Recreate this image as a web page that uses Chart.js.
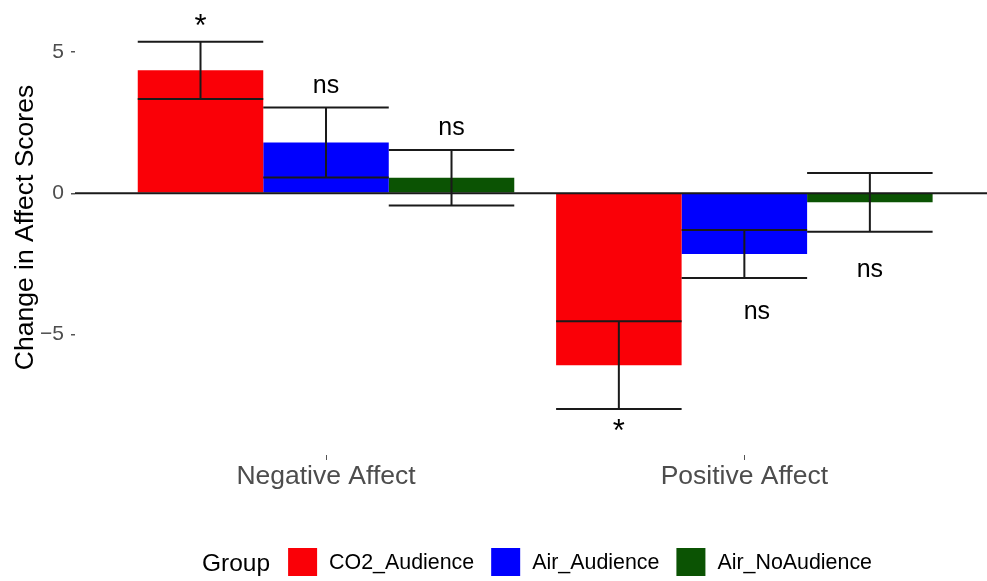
<!DOCTYPE html>
<html>
<head>
<meta charset="utf-8">
<script src="https://cdn.jsdelivr.net/npm/chart.js@4"></script>
<style>
  html, body { margin: 0; padding: 0; background: #fff; }
  #wrap { width: 987px; height: 581px; }
</style>
</head>
<body>
<div id="wrap"><canvas id="myChart" width="987" height="581"></canvas></div>
<script>
// categories on the x axis and their positions
const categories = ["Negative Affect", "Positive Affect"];
const xPos = [1, 2];
const yTicks = [-5, 0, 5];

// groups (legend)
const groups = ["CO2_Audience", "Air_Audience", "Air_NoAudience"];
const groupColors = ["#fa0007", "#0000fe", "#0b5303"];

// mean change per group
const co2Means = [4.35, -6.08];
const airAudMeans = [1.80, -2.15];
const airNoAudMeans = [0.55, -0.32];

// standard errors
const co2Se = [1.01, 1.55];
const airAudSe = [1.24, 0.85];
const airNoAudSe = [0.98, 1.04];

// significance labels, where they sit (score units) and small x nudges (category units)
const co2Sig = ["*", "*"];
const airAudSig = ["ns", "ns"];
const airNoAudSig = ["ns", "ns"];
const co2SigY = [5.86, -8.47];
const airAudSigY = [3.80, -4.20];
const airNoAudSigY = [2.31, -2.72];
const co2SigDx = [0, 0];
const airAudSigDx = [0, 0.03];
const airNoAudSigDx = [0, 0];

const FONT = "'Liberation Sans', Arial, Helvetica, sans-serif";

const allMeans = [co2Means, airAudMeans, airNoAudMeans];
const allSe = [co2Se, airAudSe, airNoAudSe];
const allSig = [co2Sig, airAudSig, airNoAudSig];
const allSigY = [co2SigY, airAudSigY, airNoAudSigY];
const allSigDx = [co2SigDx, airAudSigDx, airNoAudSigDx];

const datasets = groups.map((g, i) => ({
    label: g,
    data: xPos.map((x, j) => ({x: x, y: allMeans[i][j]})),
    backgroundColor: groupColors[i],
    borderWidth: 0,
    categoryPercentage: 0.9,
    barPercentage: 1.0,
}));

// zero line, error bars and labels
const extrasPlugin = {
    id: "extras",
    afterDatasetsDraw(chart) {
        const ctx = chart.ctx;
        const xScale = chart.scales.x;
        const yScale = chart.scales.y;
        const area = chart.chartArea;
        ctx.save();
        // horizontal line at 0
        const y0 = yScale.getPixelForValue(0);
        ctx.strokeStyle = "#1a1a1a";
        ctx.lineWidth = 2;
        ctx.beginPath();
        ctx.moveTo(area.left, y0);
        ctx.lineTo(area.right, y0);
        ctx.stroke();

        const unit = xScale.getPixelForValue(1) - xScale.getPixelForValue(0);

        // error bars
        chart.data.datasets.forEach((ds, i) => {
            const meta = chart.getDatasetMeta(i);
            meta.data.forEach((bar, j) => {
                const m = allMeans[i][j];
                const se = allSe[i][j];
                const yTop = yScale.getPixelForValue(m + se);
                const yBot = yScale.getPixelForValue(m - se);
                const half = bar.width / 2;
                ctx.beginPath();
                ctx.moveTo(bar.x, yTop);
                ctx.lineTo(bar.x, yBot);
                ctx.moveTo(bar.x - half, yTop);
                ctx.lineTo(bar.x + half, yTop);
                ctx.moveTo(bar.x - half, yBot);
                ctx.lineTo(bar.x + half, yBot);
                ctx.stroke();

                // significance text
                const label = allSig[i][j];
                ctx.fillStyle = "#000";
                ctx.textAlign = "center";
                ctx.textBaseline = "middle";
                ctx.font = (label === "*" ? "31px " : "25px ") + FONT;
                ctx.fillText(label, bar.x + allSigDx[i][j] * unit,
                    yScale.getPixelForValue(allSigY[i][j]));
            });
        });
        ctx.restore();
    },
    afterDraw(chart) {
        // legend: "Group" title followed by keys
        const ctx = chart.ctx;
        const area = chart.chartArea;
        ctx.save();
        ctx.textBaseline = "middle";
        ctx.textAlign = "left";
        const boxW = 29, boxH = 28, gapBox = 12, gapItem = 17, gapTitle = 18;
        ctx.font = "24.5px " + FONT;
        const titleW = ctx.measureText("Group").width;
        ctx.font = "21.4px " + FONT;
        const labelW = groups.map(g => ctx.measureText(g).width);
        let total = titleW + gapTitle;
        labelW.forEach((w, i) => {
            total += boxW + gapBox + w + (i < groups.length - 1 ? gapItem : 0);
        });
        let x = (area.left + area.right) / 2 - total / 2 + 6;
        const yMid = 562;
        ctx.fillStyle = "#000";
        ctx.font = "24.5px " + FONT;
        ctx.fillText("Group", x, yMid + 2);
        x += titleW + gapTitle;
        ctx.font = "21.4px " + FONT;
        groups.forEach((g, i) => {
            ctx.fillStyle = groupColors[i];
            ctx.fillRect(x, yMid - boxH / 2, boxW, boxH);
            x += boxW + gapBox;
            ctx.fillStyle = "#000";
            ctx.fillText(g, x, yMid + 1);
            x += labelW[i] + gapItem;
        });
        ctx.restore();
    }
};

const ctx = document.getElementById("myChart").getContext("2d");
const chart = new Chart(ctx, {
    type: "bar",
    data: {datasets: datasets},
    options: {
        responsive: false,
        animation: false,
        layout: {padding: {top: 0, right: 0, bottom: 86, left: 0}},
        plugins: {
            legend: {display: false},
            tooltip: {enabled: false},
        },
        scales: {
            x: {
                type: "linear",
                offset: false,
                min: 0.4,
                max: 2.58,
                grid: {
                    display: true,
                    offset: false,
                    drawOnChartArea: false,
                    drawTicks: true,
                    tickLength: 5,
                    color: "#555",
                    lineWidth: 1,
                },
                border: {display: false},
                ticks: {
                    padding: 1,
                    color: "#4d4d4d",
                    font: {family: FONT, size: 26.5},
                    maxRotation: 0,
                    callback: (value) => categories[xPos.indexOf(value)],
                },
                afterBuildTicks: (scale) => {
                    scale.ticks = xPos.map(v => ({value: v}));
                },
                afterFit: (scale) => {
                    scale.height = 40;
                    scale.paddingLeft = 0;
                    scale.paddingRight = 0;
                },
            },
            y: {
                min: -9.26,
                max: 6.84,
                grid: {
                    display: true,
                    drawOnChartArea: false,
                    drawTicks: true,
                    tickLength: 4,
                    color: "#555",
                    lineWidth: 1.5,
                },
                border: {display: false},
                title: {
                    display: true,
                    text: "Change in Affect Scores",
                    color: "#000",
                    font: {family: FONT, size: 26.5},
                    padding: {top: 10, bottom: 0},
                },
                ticks: {
                    padding: 7,
                    color: "#4d4d4d",
                    font: {family: FONT, size: 21},
                    callback: (value) => String(value).replace("-", "\u2212"),
                },
                afterBuildTicks: (scale) => {
                    scale.ticks = yTicks.map(v => ({value: v}));
                },
                afterFit: (scale) => {
                    scale.width = 75;
                    scale.paddingTop = 0;
                    scale.paddingBottom = 0;
                },
            },
        },
    },
    plugins: [extrasPlugin],
});
</script>
</body>
</html>
